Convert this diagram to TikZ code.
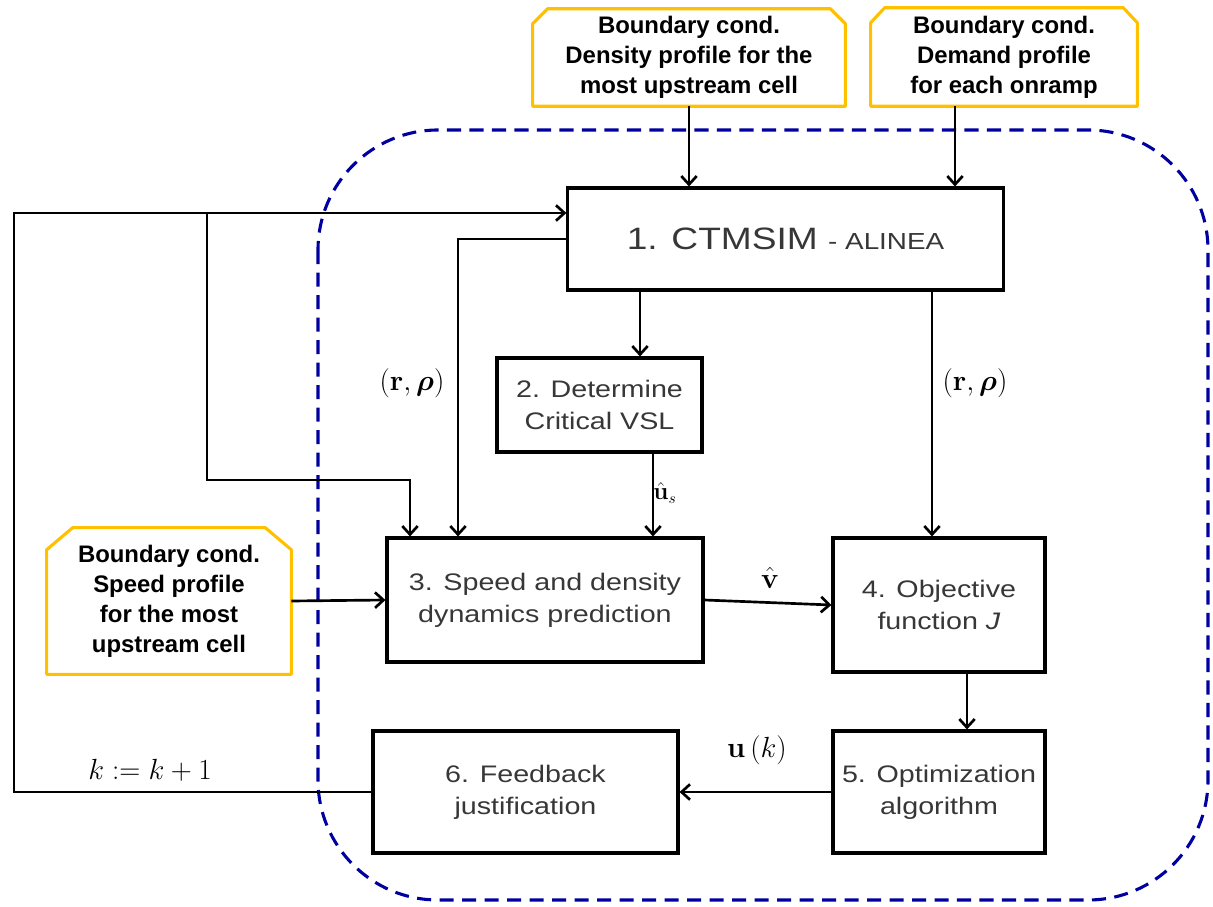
\documentclass[tikz,border=0pt]{standalone}
\usepackage[no-math]{fontspec}
\usepackage{amsmath,bm}
\setmainfont{Liberation Sans}
\newfontfamily\boxfont{Liberation Sans}[FakeStretch=1.2]
\usetikzlibrary{arrows.meta}
\definecolor{bndgold}{RGB}{255,192,0}
\definecolor{regionblue}{RGB}{0,0,160}
\definecolor{boxtext}{RGB}{55,55,55}

\tikzset{
	proc/.style={draw, line width=2.2pt, align=center, inner sep=0pt, text=boxtext, font=\boxfont\fontsize{17}{22.5}\selectfont},
	bnd/.style={align=center, inner sep=0pt, font=\bfseries\fontsize{17}{21.3}\selectfont},
	bndline/.style={draw=bndgold, line width=2.2pt, line join=round},
	arr/.style={line width=1.9pt, -{Straight Barb[length=6pt,width=11pt]}},
	region/.style={draw=regionblue, line width=2.2pt, dash pattern=on 10pt off 6pt, rounded corners=3cm},
	lbl/.style={inner sep=0pt, font=\fontsize{21}{25}\selectfont}
}

\begin{document}
\begin{tikzpicture}[x=0.025cm, y=-0.025cm]
		\useasboundingbox (0,0) rectangle (1213,907);
		
		% dashed region round the optimisation loop
		\draw[region] (318,130) rectangle (1208,900);
		
		% boundary conditions
		\node[bnd, minimum width=7.8cm, minimum height=2.425cm] (bcA) at (689,57.5)
			{Boundary cond.\\Density profile for the\\most upstream cell};
		\node[bnd, minimum width=6.65cm, minimum height=2.45cm] (bcB) at (1004,57)
			{Boundary cond.\\Demand profile\\for each onramp};
		\node[bnd, minimum width=6.1cm, minimum height=3.65cm] (bcC) at (169,601)
			{Boundary cond.\\Speed profile\\for the most\\upstream cell};
		\foreach \b/\cx/\cy in {bcA/0.375cm/0.375cm, bcB/0.35cm/0.375cm, bcC/0.65cm/0.55cm}
			\draw[bndline] (\b.south west) -- ([yshift=-\cy]\b.north west) -- ([xshift=\cx]\b.north west)
			-- ([xshift=-\cx]\b.north east) -- ([yshift=-\cy]\b.north east) -- (\b.south east) -- cycle;
		
		% process blocks
		\node[proc, minimum width=10.875cm, minimum height=2.55cm] (box1) at (785.5,239)
			{\fontsize{22}{26}\selectfont 1. CTMSIM {\fontsize{16.5}{20}\selectfont - ALINEA}};
		\node[proc, minimum width=5.125cm, minimum height=2.35cm] (box2) at (599.5,405)
			{2. Determine\\Critical VSL};
		\node[proc, minimum width=7.9cm, minimum height=3.1cm] (box3) at (545,600)
			{3. Speed and density\\dynamics prediction};
		\node[proc, minimum width=5.3cm, minimum height=3.35cm] (box4) at (939,605)
			{4. Objective\\function \textit{J}};
		\node[proc, minimum width=5.3cm, minimum height=3.05cm] (box5) at (939,792)
			{5. Optimization\\algorithm};
		\node[proc, minimum width=7.625cm, minimum height=3.05cm] (box6) at (525.5,792)
			{6. Feedback\\justification};
		
		% connector positions
		\coordinate (bBout) at (955,0);
		\coordinate (fbcorner) at (14,213);
		\coordinate (branch) at (207,213);
		\coordinate (c3a) at (410,480);
		\coordinate (c3b) at (458,0);
		\coordinate (c12) at (640,0);
		\coordinate (c23) at (653,0);
		\coordinate (c14) at (932,0);
		\coordinate (c45) at (967,0);
		
		% connectors
		\draw[arr] (bcA.south) -- (bcA.south |- box1.north);
		\draw[arr] (bBout |- bcB.south) -- (bBout |- box1.north);
		\draw[arr] (box6.west) -| (fbcorner) -- (fbcorner -| box1.west);
		\draw[arr] (branch) |- (c3a) -- (c3a |- box3.north);
		\draw[arr] (box1.west) -| (c3b |- box3.north);
		\draw[arr] (c12 |- box1.south) -- (c12 |- box2.north);
		\draw[arr] (c23 |- box2.south) -- (c23 |- box3.north);
		\draw[arr] (c14 |- box1.south) -- (c14 |- box4.north);
		\draw[arr] (c45 |- box4.south) -- (c45 |- box5.north);
		\draw[arr] (bcC.east) -- (box3.west);
		\draw[arr] (box3.east) -- (box4.west);
		\draw[arr] (box5.west) -- (box6.east);
		
		% labels
		\node[lbl] (rhoL) at (412,383) {$\left(\mathbf{r},\bm{\rho}\right)$};
		\node[lbl] (rhoR) at (975,383) {$\left(\mathbf{r},\bm{\rho}\right)$};
		\node[lbl, font=\fontsize{16}{20}\selectfont] (ushat) at (665,493) {$\hat{\mathbf{u}}_{s}$};
		\node[lbl] (vhat) at (770,578) {$\hat{\mathbf{v}}$};
		\node[lbl] (uk) at (757,750) {$\mathbf{u}\left(k\right)$};
		\node[lbl] (kinc) at (150,770) {$k := k + 1$};
	\end{tikzpicture}
\end{document}
